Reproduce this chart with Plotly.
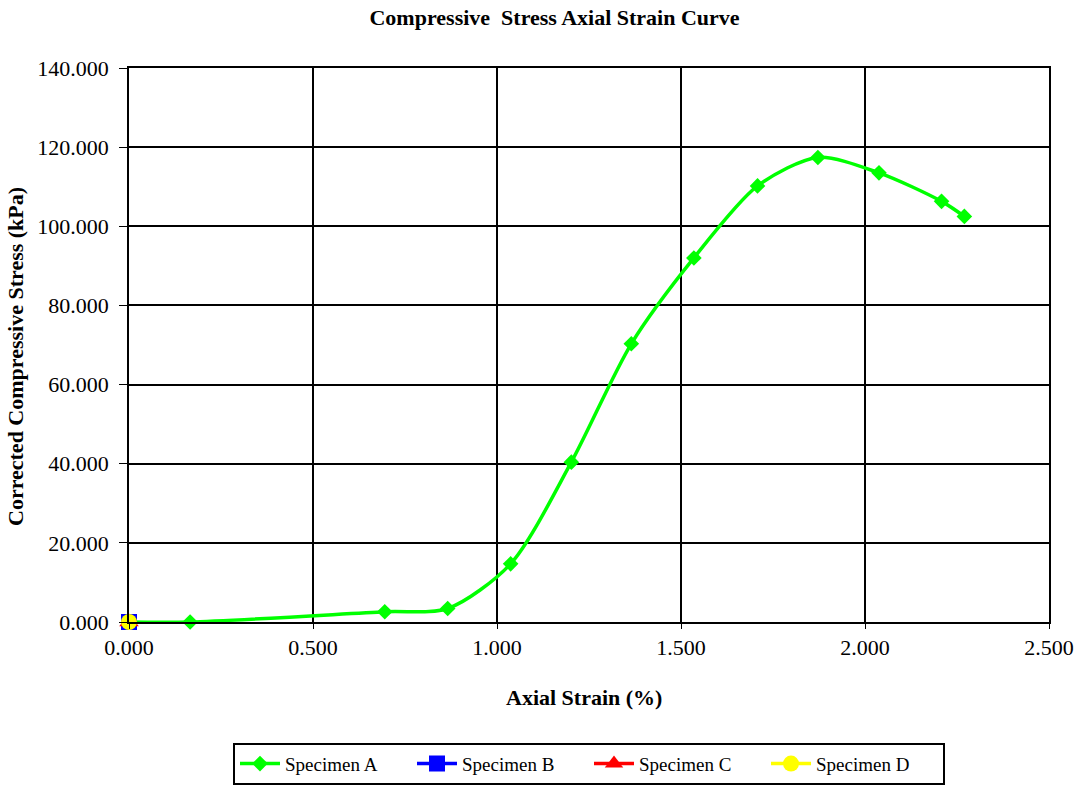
import plotly.graph_objects as go

# Specimen A test readings
strain_a = [0.000, 0.166, 0.695, 0.866, 1.037, 1.202, 1.365, 1.535, 1.708, 1.872, 2.038, 2.208, 2.270]
stress_a = [0.000, 0.000, 2.600, 3.400, 14.700, 40.400, 70.300, 92.000, 110.200, 117.400, 113.500, 106.300, 102.500]

# Specimens B, C, D (single initial reading)
strain_b = [0.000]
stress_b = [0.000]
strain_c = [0.000]
stress_c = [0.000]
strain_d = [0.000]
stress_d = [0.000]

x_ticks = [0.0, 0.5, 1.0, 1.5, 2.0, 2.5]
y_ticks = [0, 20, 40, 60, 80, 100, 120, 140]

FONT = "Liberation Serif, Times New Roman, serif"

fig = go.Figure()
fig.add_trace(go.Scatter(
    x=strain_a, y=stress_a, name="Specimen A", mode="lines+markers",
    line=dict(color="#00FF00", width=3.5, shape="spline", smoothing=0.8),
    marker=dict(symbol="diamond", size=12, color="#00FF00"),
    cliponaxis=False,
))
fig.add_trace(go.Scatter(
    x=strain_b, y=stress_b, name="Specimen B", mode="lines+markers",
    line=dict(color="#0000FF", width=3.5),
    marker=dict(symbol="square", size=16, color="#0000FF"),
    cliponaxis=False,
))
fig.add_trace(go.Scatter(
    x=strain_c, y=stress_c, name="Specimen C", mode="lines+markers",
    line=dict(color="#FF0000", width=3.5),
    marker=dict(symbol="triangle-up", size=17, color="#FF0000"),
    cliponaxis=False,
))
fig.add_trace(go.Scatter(
    x=strain_d, y=stress_d, name="Specimen D", mode="lines+markers",
    line=dict(color="#FFFF00", width=3.5),
    marker=dict(symbol="circle", size=16, color="#FFFF00"),
    cliponaxis=False,
))

fig.update_layout(
    width=1081, height=791,
    margin=dict(l=129, r=32, t=68, b=169, autoexpand=False),
    paper_bgcolor="white", plot_bgcolor="white",
    font=dict(family=FONT, size=20, color="black"),
    title=dict(text="<b>Compressive  Stress Axial Strain Curve</b>",
               x=0.513, xanchor="center", y=0.978, yanchor="middle",
               font=dict(family=FONT, size=22, color="black")),
    showlegend=True,
    legend=dict(orientation="h", x=0.5, xanchor="center", y=-0.218, yanchor="top",
                bordercolor="black", borderwidth=2, bgcolor="white",
                font=dict(family=FONT, size=19, color="black"),
                itemwidth=40, tracegroupgap=0,
                entrywidth=122, entrywidthmode="pixels"),
    annotations=[
        dict(text="<b>Axial Strain (%)</b>", xref="paper", yref="paper",
             x=(584 - 129) / 920, y=-(697 - 622) / 554, xanchor="center", yanchor="middle",
             showarrow=False, font=dict(family=FONT, size=22, color="black")),
        dict(text="<b>Corrected Compressive Stress (kPa)</b>", xref="paper", yref="paper",
             x=-(129 - 15) / 920, y=(622 - 357) / 554, xanchor="center", yanchor="middle",
             textangle=-90, showarrow=False, font=dict(family=FONT, size=22, color="black")),
    ],
)

fig.update_xaxes(
    range=[0, 2.5], tickvals=x_ticks, tickformat=".3f",
    showgrid=True, gridcolor="black", gridwidth=1.5,
    showline=True, linecolor="black", linewidth=1.5, mirror=True,
    ticks="outside", ticklen=5, tickcolor="black",
    zeroline=False,
    tickfont=dict(family=FONT, size=22),
)
fig.update_yaxes(
    range=[0, 140], tickvals=y_ticks, tickformat=".3f",
    showgrid=True, gridcolor="black", gridwidth=1.5,
    showline=True, linecolor="black", linewidth=1.5, mirror=True,
    ticks="outside", ticklen=8, tickcolor="black", ticklabelstandoff=6,
    zeroline=False,
    tickfont=dict(family=FONT, size=22),
)

fig.write_html("out.html")
